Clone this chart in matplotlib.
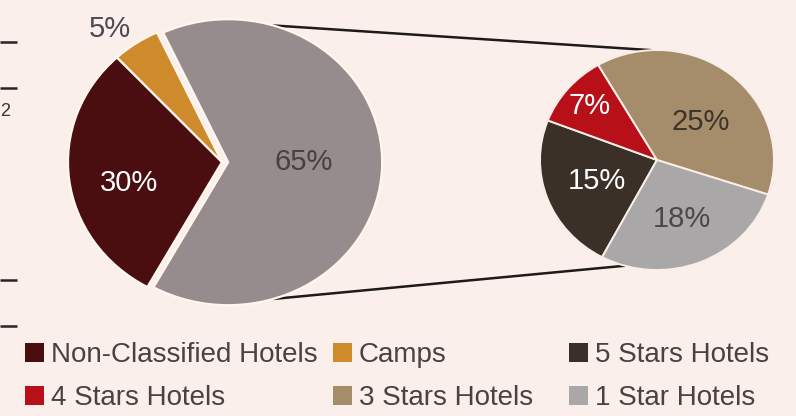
import numpy as np
import matplotlib
matplotlib.use("Agg")
import matplotlib.pyplot as plt
from matplotlib.patches import ConnectionPatch, Patch

# Main pie: share of rooms by establishment type (%)
main_labels = ["Non-Classified Hotels", "Camps", "Classified Hotels"]
main_values = [30, 5, 65]
main_colors = ["#4a0e10", "#cf8a2c", "#968b8d"]

# Breakdown of classified hotels (% of total)
sub_labels = ["5 Stars Hotels", "4 Stars Hotels", "3 Stars Hotels", "1 Star Hotels"]
sub_values = [15, 7, 25, 18]
sub_colors = ["#3a3027", "#b81018", "#a58d6c", "#a9a7a7"]

BG = "#fbefec"
FONT = ["Liberation Sans", "DejaVu Sans"]

W, H = 796, 416
fig = plt.figure(figsize=(W / 100, H / 100), dpi=100, facecolor=BG)

# pixel-space background axes for the stray axis ticks on the left
bg = fig.add_axes([0, 0, 1, 1], zorder=0)
bg.set_xlim(0, W)
bg.set_ylim(H, 0)
bg.axis("off")
for y in [42, 88, 280, 326]:
    bg.plot([0, 17], [y, y], color="#2b2424", lw=1.8, solid_capstyle="butt")
bg.text(0, 112, "2", ha="left", va="center", fontsize=13, color="#3a3333", family=FONT)


def pie_axes(cx, cy, rx, ry):
    return fig.add_axes([(cx - rx) / W, 1 - (cy + ry) / H, 2 * rx / W, 2 * ry / H], zorder=2)


def fix_axes(ax):
    # pie() forces a square aspect; let the slices fill the box instead
    ax.set_aspect("auto")
    ax.set_xlim(-1, 1)
    ax.set_ylim(-1, 1)
    ax.axis("off")


def put_labels(ax, wedges, values, dists, shifts, colors, size):
    for w, v, d, s, c in zip(wedges, values, dists, shifts, colors):
        ang = np.deg2rad((w.theta1 + w.theta2) / 2 + s)
        x0, y0 = w.center
        ax.text(x0 + d * np.cos(ang), y0 + d * np.sin(ang), f"{v}%",
                ha="center", va="center", fontsize=size, color=c,
                family=FONT, clip_on=False)


# left pie
ax1 = pie_axes(222, 162, 154, 143)
w1, _ = ax1.pie(main_values, colors=main_colors, startangle=241, counterclock=False,
                explode=[0, 0, 0.04], radius=1,
                wedgeprops=dict(edgecolor="#fff6ee", linewidth=1.6))
fix_axes(ax1)
put_labels(ax1, w1, main_values, [0.62, 1.18, 0.49], [7, 4, 2],
           ["white", "#4d4a52", "#4a4040"], 21)

# right pie
ax2 = pie_axes(657, 160, 117, 110)
w2, _ = ax2.pie(sub_values, colors=sub_colors, startangle=242, counterclock=False,
                radius=1, wedgeprops=dict(edgecolor="#f8eee6", linewidth=1.4))
fix_axes(ax2)
put_labels(ax2, w2, sub_values, [0.55, 0.76, 0.51, 0.58], [0, 0, -8, 0],
           ["white", "white", "#3d3428", "#4d4747"], 21)

# lines joining the classified slice to its breakdown
gx, gy = w1[2].center
for a_left, a_right in [(73, 93), (-73, -106)]:
    pa = (gx + np.cos(np.deg2rad(a_left)), gy + np.sin(np.deg2rad(a_left)))
    pb = (np.cos(np.deg2rad(a_right)), np.sin(np.deg2rad(a_right)))
    con = ConnectionPatch(xyA=pa, coordsA=ax1.transData, xyB=pb, coordsB=ax2.transData,
                          color="#1e1a1a", lw=1.8, zorder=1)
    fig.add_artist(con)

# legend in three columns: (Non-Classified, 4 Stars), (Camps, 3 Stars), (5 Stars, 1 Star)
columns = [
    [(main_labels[0], main_colors[0]), (sub_labels[1], sub_colors[1])],
    [(main_labels[1], main_colors[1]), (sub_labels[2], sub_colors[2])],
    [(sub_labels[0], sub_colors[0]), (sub_labels[3], sub_colors[3])],
]
col_x = [25, 333, 569]
for entries, x in zip(columns, col_x):
    handles = [Patch(facecolor=c, edgecolor="none", label=l) for l, c in entries]
    leg = fig.legend(handles=handles, loc="upper left",
                     bbox_to_anchor=(x / W, 1 - 342 / H),
                     frameon=False, handlelength=0.68, handleheight=0.68,
                     handletextpad=0.25, labelspacing=0.62,
                     borderpad=0, borderaxespad=0, prop=dict(family=FONT, size=20))
    for t in leg.get_texts():
        t.set_color("#4a4242")

fig.savefig("out.png", dpi=100, facecolor=BG)
